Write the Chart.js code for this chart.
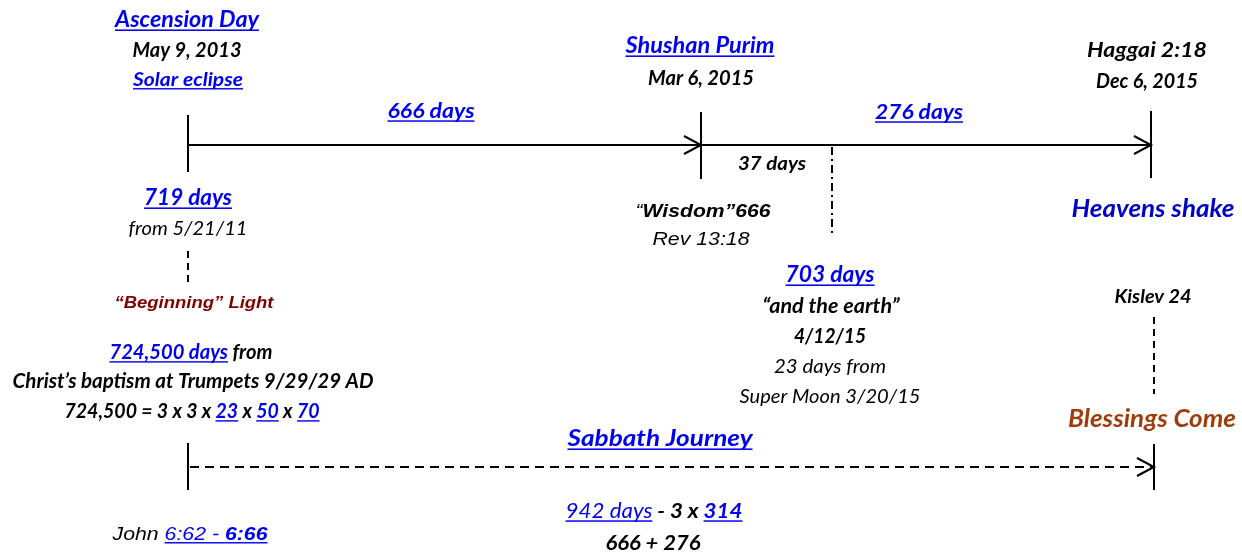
<!DOCTYPE html>
<html>
<head>
<meta charset="utf-8">
<title>Timeline</title>
<script src="https://cdn.jsdelivr.net/npm/chart.js@4.4.1/dist/chart.umd.min.js"></script>
<style>
  html, body { margin: 0; padding: 0; background: #fff; }
  #wrap { width: 1242px; height: 554px; }
</style>
</head>
<body>
<div id="wrap"><canvas id="myChart" width="1242" height="554"></canvas></div>
<script>
// diagram units: x 0..1242, y 0..554 (top to bottom)

// timeline stops on the upper line
const topStops = [188, 701, 1151];
const topLineY = 145;
// the lower "Sabbath Journey" line
const bottomStops = [188, 1154];
const bottomLineY = 467;

// vertical ticks: [x, yTop, yBottom]
const tickMarks = [
  [188, 115, 172],
  [701, 112, 179],
  [1151, 111, 178],
  [188, 443, 490],
  [1154, 444, 490]
];
// arrow tips: [x, y]
const arrowTips = [[701, 145], [1151, 145], [1154, 467]];
// dashed connectors: [x1, y1, x2, y2]
const dashedLinks = [[188, 251, 188, 287], [1154, 317, 1154, 394]];
// dash-dot marker for 4/12/15
const dashDotLinks = [[832, 147, 832, 237]];

const BLUE = "#0000f0";
const DARKBLUE = "#0000c8";
const BLACK = "#000";
const DARKRED = "#7d0000";
const BROWN = "#9e3c0b";

// text labels: centre x, baseline y, font size, target width, runs
const labels = [
  { x: 187, y: 27, s: 22, w: 144, runs: [{ t: "Ascension Day", c: BLUE, u: 1 }] },
  { x: 187, y: 57, s: 21, w: 109, runs: [{ t: "May 9, 2013" }] },
  { x: 188, y: 86, s: 19, w: 110, runs: [{ t: "Solar eclipse", c: BLUE, u: 1 }] },
  { x: 431, y: 118, s: 21, w: 87, runs: [{ t: "666 days", c: BLUE, u: 1 }] },
  { x: 700, y: 53, s: 22, w: 149, runs: [{ t: "Shushan Purim", c: BLUE, u: 1 }] },
  { x: 701, y: 85, s: 20, w: 106, runs: [{ t: "Mar 6, 2015" }] },
  { x: 919, y: 119, s: 21, w: 88, runs: [{ t: "276 days", c: BLUE, u: 1 }] },
  { x: 1147, y: 57, s: 21, w: 120, runs: [{ t: "Haggai 2:18" }] },
  { x: 1147, y: 88, s: 20, w: 102, runs: [{ t: "Dec 6, 2015" }] },
  { x: 772, y: 170, s: 19, w: 68, runs: [{ t: "37 days" }] },
  { x: 1153, y: 217, s: 24, w: 163, runs: [{ t: "Heavens shake", c: DARKBLUE }] },
  { x: 188, y: 205, s: 22, w: 88, runs: [{ t: "719 days", c: BLUE, u: 1 }] },
  { x: 188, y: 235, s: 20, w: 119, runs: [{ t: "from 5/21/11", n: 1 }] },
  { x: 194, y: 308, s: 16, w: 159, runs: [{ t: "\u201cBeginning\u201d Light", c: DARKRED, a: 1 }] },
  { x: 191, y: 359, s: 20, w: 163, runs: [{ t: "724,500 days", c: BLUE, u: 1 }, { t: " from" }] },
  { x: 193, y: 388, s: 20, w: 361, runs: [{ t: "Christ\u2019s baptism at Trumpets 9/29/29 AD" }] },
  { x: 192, y: 418, s: 20, w: 255, runs: [
      { t: "724,500 = 3 x 3 x " }, { t: "23", c: BLUE, u: 1 }, { t: " x " },
      { t: "50", c: BLUE, u: 1 }, { t: " x " }, { t: "70", c: BLUE, u: 1 }] },
  { x: 703, y: 217, s: 19, w: 135, runs: [{ t: "\u201c", a: 1, n: 1 }, { t: "Wisdom\u201d666", a: 1 }] },
  { x: 701, y: 245, s: 18, w: 97, runs: [{ t: "Rev 13:18", a: 1, n: 1 }] },
  { x: 830, y: 282, s: 22, w: 89, runs: [{ t: "703 days", c: BLUE, u: 1 }] },
  { x: 831, y: 313, s: 20, w: 137, runs: [{ t: "\u201cand the earth\u201d" }] },
  { x: 830, y: 343, s: 20, w: 72, runs: [{ t: "4/12/15" }] },
  { x: 830, y: 373, s: 20, w: 112, runs: [{ t: "23 days from", n: 1 }] },
  { x: 830, y: 403, s: 20, w: 181, runs: [{ t: "Super Moon 3/20/15", n: 1 }] },
  { x: 1153, y: 303, s: 18, w: 77, runs: [{ t: "Kislev 24" }] },
  { x: 1152, y: 427, s: 24, w: 168, runs: [{ t: "Blessings Come", c: BROWN }] },
  { x: 660, y: 446, s: 22, w: 185, runs: [{ t: "Sabbath Journey", c: BLUE, u: 1 }] },
  { x: 654, y: 518, s: 21, w: 177, runs: [
      { t: "942 days", c: BLUE, u: 1, n: 1 }, { t: " - 3 x " }, { t: "314", c: BLUE, u: 1 }] },
  { x: 653, y: 550, s: 20, w: 95, runs: [{ t: "666 + 276" }] },
  { x: 190, y: 540, s: 19, w: 155, runs: [
      { t: "John ", a: 1, n: 1 }, { t: "6:62 - ", c: BLUE, u: 1, a: 1, n: 1 }, { t: "6:66", c: BLUE, u: 1, a: 1 }] }
];

// build line datasets from the arrays above
const segStyle = { borderColor: "#000", borderWidth: 2, pointRadius: 0, showLine: true, fill: false, tension: 0 };
const datasets = [];

datasets.push(Object.assign({
  data: [{ x: topStops[0], y: topLineY }, { x: topStops[topStops.length - 1], y: topLineY }]
}, segStyle));

datasets.push(Object.assign({}, segStyle, {
  data: [{ x: bottomStops[0] + 2, y: bottomLineY }, { x: bottomStops[1] - 2, y: bottomLineY }],
  borderDash: [9, 6]
}));

tickMarks.forEach(function (t) {
  datasets.push(Object.assign({ data: [{ x: t[0], y: t[1] }, { x: t[0], y: t[2] }] }, segStyle));
});

arrowTips.forEach(function (a) {
  datasets.push(Object.assign({
    data: [{ x: a[0] - 17, y: a[1] - 9 }, { x: a[0], y: a[1] }, { x: a[0] - 17, y: a[1] + 9 }],
    borderJoinStyle: "miter"
  }, segStyle));
});

dashedLinks.forEach(function (d) {
  datasets.push(Object.assign({}, segStyle, {
    data: [{ x: d[0], y: d[1] }, { x: d[2], y: d[3] }],
    borderDash: [7, 5]
  }));
});

dashDotLinks.forEach(function (d) {
  datasets.push(Object.assign({}, segStyle, {
    data: [{ x: d[0], y: d[1] }, { x: d[2], y: d[3] }],
    borderDash: [8, 4, 2, 4]
  }));
});

// plugin that writes the rich text labels
const textPlugin = {
  id: "timelineText",
  afterDatasetsDraw: function (chart) {
    const ctx = chart.ctx;
    const xs = chart.scales.x;
    const ys = chart.scales.y;
    labels.forEach(function (lab) {
      const fontOf = function (r) {
        const fam = r.a ? "\"Liberation Sans\", Arimo, Arial, sans-serif" : "Lato, \"Open Sans\", sans-serif";
        return "italic " + (r.n ? "400 " : "700 ") + lab.s + "px " + fam;
      };
      let total = 0;
      const widths = lab.runs.map(function (r) {
        ctx.font = fontOf(r);
        const w = ctx.measureText(r.t).width;
        total += w;
        return w;
      });
      let sx = lab.w / total;
      sx = Math.max(0.72, Math.min(1.25, sx));
      const cx = xs.getPixelForValue(lab.x);
      const by = ys.getPixelForValue(lab.y);
      ctx.save();
      ctx.translate(cx - total * sx / 2, by);
      ctx.scale(sx, 1);
      ctx.textBaseline = "alphabetic";
      ctx.textAlign = "left";
      let px = 0;
      lab.runs.forEach(function (r, i) {
        ctx.font = fontOf(r);
        ctx.fillStyle = r.c || BLACK;
        ctx.fillText(r.t, px, 0);
        if (r.u) {
          ctx.fillRect(px, lab.s * 0.11, widths[i], Math.max(1.4, lab.s * 0.07));
        }
        px += widths[i];
      });
      ctx.restore();
    });
  }
};

const ctx = document.getElementById("myChart").getContext("2d");
window.myChart = new Chart(ctx, {
  type: "scatter",
  data: { datasets: datasets },
  options: {
    responsive: false,
    devicePixelRatio: 1,
    animation: false,
    layout: { padding: 0 },
    plugins: { legend: { display: false }, tooltip: { enabled: false } },
    scales: {
      x: { type: "linear", min: 0, max: 1242, display: false },
      y: { type: "linear", min: 0, max: 554, reverse: true, display: false }
    }
  },
  plugins: [textPlugin]
});
</script>
</body>
</html>
